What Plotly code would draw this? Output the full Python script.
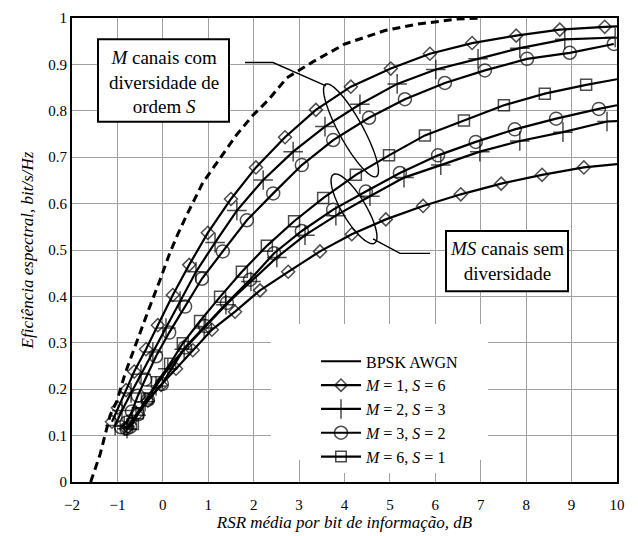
import math
import plotly.graph_objects as go

# ---------------- data ----------------
# Capacity-like dashed bound
bound_x = [-1.59, -1.38, -1.16, -1.01, -0.83, -0.57, -0.33, -0.06, 0.16, 0.33, 0.53,
           0.88, 1.26, 1.63, 1.99, 2.32, 2.73, 3.31, 4.01, 4.89, 5.62, 6.50, 7.00]
bound_y = [0.0, 0.06, 0.144, 0.175, 0.234, 0.305, 0.367, 0.436, 0.495, 0.534, 0.576,
           0.645, 0.697, 0.749, 0.791, 0.823, 0.871, 0.906, 0.944, 0.973, 0.987, 0.998, 1.0]

# M channels with diversity of order S
div_m1s6_x = [-1.12, -0.99, -0.81, -0.63, -0.37, -0.11, 0.22, 0.58, 0.99, 1.50, 2.05, 2.69,
              3.37, 4.14, 5.02, 5.88, 6.81, 7.78, 8.74, 9.73, 10.0]
div_m1s6_y = [0.13, 0.16, 0.198, 0.238, 0.286, 0.338, 0.403, 0.468, 0.537, 0.610, 0.678, 0.743,
              0.802, 0.852, 0.891, 0.923, 0.946, 0.962, 0.975, 0.981, 0.982]

div_m2s3_x = [-1.05, -0.90, -0.70, -0.48, -0.22, 0.07, 0.38, 0.73, 1.15, 1.63, 2.21, 2.87,
              3.57, 4.34, 5.16, 6.01, 6.94, 7.86, 8.85, 9.96]
div_m2s3_y = [0.122, 0.154, 0.192, 0.232, 0.28, 0.332, 0.39, 0.453, 0.516, 0.585, 0.651, 0.712,
              0.766, 0.814, 0.858, 0.889, 0.912, 0.935, 0.954, 0.958]

div_m3s2_x = [-0.92, -0.80, -0.68, -0.55, -0.39, -0.15, 0.14, 0.49, 0.86, 1.32, 1.85, 2.43,
              3.06, 3.75, 4.54, 5.33, 6.21, 7.09, 8.02, 8.96, 9.93]
div_m3s2_y = [0.118, 0.128, 0.152, 0.186, 0.221, 0.271, 0.322, 0.378, 0.438, 0.497, 0.564, 0.622,
              0.683, 0.737, 0.785, 0.825, 0.860, 0.887, 0.912, 0.925, 0.944]

# MS channels without diversity
nod_m6s1_x = [-0.66, -0.55, -0.35, -0.13, 0.16, 0.44, 0.82, 1.26, 1.74, 2.29, 2.89, 3.53,
              4.25, 4.98, 5.77, 6.63, 7.51, 8.41, 9.32, 10.0]
nod_m6s1_y = [0.125, 0.148, 0.180, 0.215, 0.255, 0.299, 0.347, 0.399, 0.453, 0.509, 0.562, 0.612,
              0.662, 0.704, 0.747, 0.779, 0.812, 0.837, 0.856, 0.868]

nod_m3s2_x = [-0.80, -0.72, -0.55, -0.33, -0.02, 0.49, 0.93, 1.41, 1.92, 2.45, 3.06, 3.75,
              4.47, 5.22, 6.06, 6.89, 7.75, 8.66, 9.60, 10.0]
nod_m3s2_y = [0.115, 0.119, 0.146, 0.177, 0.211, 0.290, 0.336, 0.386, 0.436, 0.493, 0.541, 0.587,
              0.626, 0.666, 0.704, 0.733, 0.760, 0.783, 0.804, 0.812]

nod_m2s3_x = [-0.85, -0.79, -0.59, -0.39, -0.15, 0.11, 0.47, 0.91, 1.39, 1.94, 2.51, 3.13,
              3.81, 4.56, 5.31, 6.12, 6.98, 7.86, 8.81, 9.78, 10.0]
nod_m2s3_y = [0.12, 0.115, 0.144, 0.173, 0.207, 0.244, 0.286, 0.332, 0.382, 0.432, 0.484, 0.532,
              0.574, 0.616, 0.656, 0.683, 0.712, 0.735, 0.754, 0.777, 0.778]

nod_m1s6_x = [-0.80, -0.77, -0.57, -0.33, -0.04, 0.29, 0.66, 1.08, 1.59, 2.14, 2.76, 3.46,
              4.16, 4.91, 5.73, 6.56, 7.45, 8.35, 9.27, 10.0]
nod_m1s6_y = [0.115, 0.119, 0.146, 0.175, 0.209, 0.244, 0.284, 0.328, 0.367, 0.413, 0.453, 0.497,
              0.534, 0.566, 0.595, 0.620, 0.643, 0.662, 0.678, 0.685]

legend_labels = ["BPSK AWGN",
                 "<i>M</i> = 1, <i>S</i> = 6",
                 "<i>M</i> = 2, <i>S</i> = 3",
                 "<i>M</i> = 3, <i>S</i> = 2",
                 "<i>M</i> = 6, <i>S</i> = 1"]

x_ticks = list(range(-2, 11))
x_tick_text = ["\u22122", "\u22121"] + [str(v) for v in range(0, 11)]
y_ticks = [round(0.1 * i, 1) for i in range(0, 11)]
y_tick_text = ["0", "0.1", "0.2", "0.3", "0.4", "0.5", "0.6", "0.7", "0.8", "0.9", "1"]

x_title = "<i>RSR média por bit de informação, dB</i>"
y_title = "<i>Eficiência espectral, bit/s/Hz</i>"
box1_text = "<i>M</i> canais com<br>diversidade de<br>ordem <i>S</i>"
box2_text = "<i>MS</i> canais sem<br>diversidade"

# ---------------- layout geometry ----------------
W, H = 638, 536
L, R, T, B = 72, 617, 10, 489
XMIN, XMAX, YMIN, YMAX = -2, 10, 0, 1
FONT = "Liberation Serif"


def dx(px):
    return XMIN + (px - L) / (R - L) * (XMAX - XMIN)


def dy(py):
    return YMIN + (B - py) / (B - T) * (YMAX - YMIN)


fig = go.Figure()

# dashed bound (no legend)
fig.add_trace(go.Scatter(x=bound_x, y=bound_y, mode="lines", showlegend=False,
                         line=dict(color="black", width=3, dash="8px,5px")))

# legend-only entry for solid line
fig.add_trace(go.Scatter(x=[None], y=[None], mode="lines", name=legend_labels[0],
                         line=dict(color="black", width=2)))

marker_styles = {
    "diamond": dict(symbol="diamond-open", size=10),
    "plus": dict(symbol="cross-thin-open", size=14),
    "circle": dict(symbol="circle-open", size=13),
    "square": dict(symbol="square-open", size=11),
}

series = [
    (div_m1s6_x, div_m1s6_y, "diamond", legend_labels[1], True, "g1"),
    (div_m2s3_x, div_m2s3_y, "plus", legend_labels[2], True, "g2"),
    (div_m3s2_x, div_m3s2_y, "circle", legend_labels[3], True, "g3"),
    (nod_m6s1_x, nod_m6s1_y, "square", legend_labels[4], True, "g4"),
    (nod_m3s2_x, nod_m3s2_y, "circle", legend_labels[3], False, "g3"),
    (nod_m2s3_x, nod_m2s3_y, "plus", legend_labels[2], False, "g2"),
    (nod_m1s6_x, nod_m1s6_y, "diamond", legend_labels[1], False, "g1"),
]

for xs, ys, mk, name, show, grp in series:
    st = marker_styles[mk]
    sizes = [st["size"]] * len(xs)
    # a point lying exactly on the right frame with a marker just before it is only the line end
    if xs[-1] >= XMAX and (XMAX - xs[-2]) > 0.15:
        sizes[-1] = 0
    fig.add_trace(go.Scatter(
        x=xs, y=ys, mode="lines+markers", name=name, legendgroup=grp, showlegend=show,
        line=dict(color="black", width=2.2),
        marker=dict(symbol=st["symbol"], size=sizes, color="black",
                    line=dict(color="black", width=1.5)),
    ))

shapes = []
# white area behind legend (hides grid)
shapes.append(dict(type="rect", xref="x", yref="y", layer="between",
                   x0=dx(271), x1=dx(488), y0=dy(466), y1=dy(326),
                   fillcolor="white", line=dict(width=0)))


def ellipse_path(cx, cy, a, b, ang_deg, n=72):
    th = math.radians(ang_deg)
    pts = []
    for i in range(n):
        t = 2 * math.pi * i / n
        px = cx + a * math.cos(th) * math.cos(t) - b * math.sin(th) * math.sin(t)
        py = cy + a * math.sin(th) * math.cos(t) + b * math.cos(th) * math.sin(t)
        pts.append((dx(px), dy(py)))
    return "M " + " L ".join(f"{x:.4f},{y:.4f}" for x, y in pts) + " Z"


shapes.append(dict(type="path", xref="x", yref="y", path=ellipse_path(351, 126, 54, 12, 62),
                   line=dict(color="black", width=1.4)))
shapes.append(dict(type="path", xref="x", yref="y", path=ellipse_path(354, 207, 41, 12, 60),
                   line=dict(color="black", width=1.4)))

# leader lines
shapes.append(dict(type="path", xref="x", yref="y",
                   path=f"M {dx(245)},{dy(56)} L {dx(273)},{dy(56)} L {dx(326)},{dy(80)}",
                   line=dict(color="black", width=1.4)))
shapes.append(dict(type="path", xref="x", yref="y",
                   path=f"M {dx(373)},{dy(238)} L {dx(400)},{dy(253)} L {dx(430)},{dy(253)}",
                   line=dict(color="black", width=1.4)))

# label boxes
shapes.append(dict(type="rect", xref="x", yref="y", x0=dx(98), x1=dx(229), y0=dy(117), y1=dy(32),
                   fillcolor="white", line=dict(color="black", width=2)))
shapes.append(dict(type="rect", xref="x", yref="y", x0=dx(446), x1=dx(568), y0=dy(292), y1=dy(230),
                   fillcolor="white", line=dict(color="black", width=2)))

annotations = [
    dict(x=dx(163.5), y=dy(76), xref="x", yref="y", text=box1_text, showarrow=False,
         font=dict(family=FONT, size=19, color="black"), align="center"),
    dict(x=dx(507), y=dy(261), xref="x", yref="y", text=box2_text, showarrow=False,
         font=dict(family=FONT, size=19, color="black"), align="center"),
]

fig.update_layout(
    width=W, height=H,
    margin=dict(l=L, r=W - R, t=T, b=H - B, pad=0),
    paper_bgcolor="white", plot_bgcolor="white",
    font=dict(family=FONT, size=15, color="black"),
    shapes=shapes, annotations=annotations,
    legend=dict(x=(316 - L) / (R - L), y=(B - 347) / (B - T), xanchor="left", yanchor="top",
                bgcolor="white", borderwidth=0, traceorder="normal",
                font=dict(family=FONT, size=16, color="black"),
                itemwidth=40, tracegroupgap=0),
    showlegend=True,
)

fig.update_xaxes(range=[XMIN, XMAX], tickvals=x_ticks, ticktext=x_tick_text,
                 showgrid=True, gridcolor="#a0a0a0", gridwidth=1.3, zeroline=False,
                 showline=True, linecolor="black", linewidth=2, mirror=True,
                 ticks="", ticklabelstandoff=8, tickfont=dict(family=FONT, size=15, color="black"),
                 title=dict(text=x_title, font=dict(family=FONT, size=17, color="black"), standoff=1))
fig.update_yaxes(range=[YMIN, YMAX], tickvals=y_ticks, ticktext=y_tick_text,
                 showgrid=True, gridcolor="#a0a0a0", gridwidth=1.3, zeroline=False,
                 showline=True, linecolor="black", linewidth=2, mirror=True,
                 ticks="", tickfont=dict(family=FONT, size=15, color="black"),
                 title=dict(text=y_title, font=dict(family=FONT, size=17, color="black"), standoff=10))

fig.write_html("out.html")
